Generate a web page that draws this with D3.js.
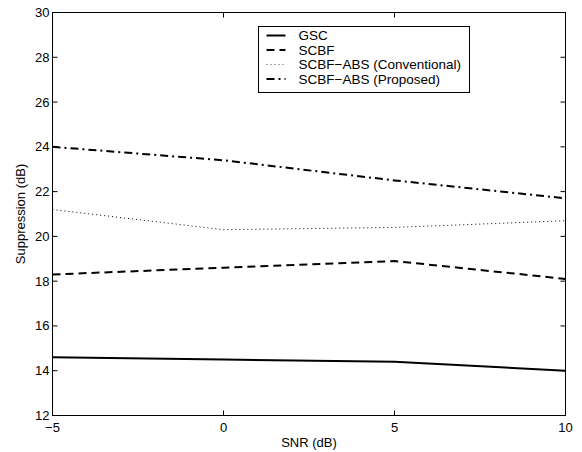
<!DOCTYPE html>
<html>
<head>
  <meta charset="utf-8">
  <script src="https://cdnjs.cloudflare.com/ajax/libs/d3/7.8.5/d3.min.js"></script>
  <style>
    body { margin: 0; background: #fff; }
    svg { font-family: "Liberation Sans", Arial, Helvetica, sans-serif; }
    .tick-label { font-size: 13px; fill: #000; }
    .axis-label { font-size: 13px; fill: #000; }
    .legend-text { font-size: 13.5px; fill: #000; }
    .series { fill: none; stroke: #000; }
  </style>
</head>
<body>
  <div id="chart"></div>
  <script>
    // Data
    const snr = [-5, 0, 5, 10];
    const gsc = [14.6, 14.5, 14.4, 14.0];
    const scbf = [18.3, 18.6, 18.9, 18.1];
    const absConventional = [21.2, 20.3, 20.4, 20.7];
    const absProposed = [24.0, 23.4, 22.5, 21.7];

    const seriesNames = ["GSC", "SCBF", "SCBF\u2212ABS (Conventional)", "SCBF\u2212ABS (Proposed)"];
    const xTicks = [-5, 0, 5, 10];
    const yTicks = [12, 14, 16, 18, 20, 22, 24, 26, 28, 30];

    const styles = [
      {width: 2, dash: null, color: "#000"},
      {width: 2, dash: "8,5", color: "#000"},
      {width: 1, dash: "1,3", color: "#555"},
      {width: 2, dash: "8,4,2,4", color: "#000"}
    ];

    const series = [gsc, scbf, absConventional, absProposed].map((vals, i) => ({
      name: seriesNames[i],
      values: vals.map((v, j) => ({x: snr[j], y: v})),
      style: styles[i]
    }));

    const W = 582, H = 452;
    const plotLeft = 52.5, plotRight = 565.5, plotTop = 12.5, plotBottom = 415.5;

    const svg = d3.select("#chart").append("svg")
      .attr("width", W)
      .attr("height", H);

    const x = d3.scaleLinear().domain([-5, 10]).range([plotLeft, plotRight]);
    const y = d3.scaleLinear().domain([12, 30]).range([plotBottom, plotTop]);

    // Series lines
    const line = d3.line().x(d => x(d.x)).y(d => y(d.y));
    svg.selectAll(".series")
      .data(series)
      .join("path")
      .attr("class", "series")
      .attr("d", d => line(d.values))
      .attr("stroke", d => d.style.color)
      .attr("stroke-width", d => d.style.width)
      .attr("stroke-dasharray", d => d.style.dash);

    // Frame with inward ticks on all sides
    const tickLen = 5;
    svg.append("rect")
      .attr("x", plotLeft).attr("y", plotTop)
      .attr("width", plotRight - plotLeft).attr("height", plotBottom - plotTop)
      .attr("fill", "none").attr("stroke", "#000").attr("stroke-width", 1);

    const ticks = svg.append("g").attr("stroke", "#000").attr("stroke-width", 1);
    xTicks.forEach(t => {
      ticks.append("line").attr("x1", x(t)).attr("x2", x(t)).attr("y1", plotBottom).attr("y2", plotBottom - tickLen);
      ticks.append("line").attr("x1", x(t)).attr("x2", x(t)).attr("y1", plotTop).attr("y2", plotTop + tickLen);
    });
    yTicks.forEach(t => {
      ticks.append("line").attr("x1", plotLeft).attr("x2", plotLeft + tickLen).attr("y1", y(t)).attr("y2", y(t));
      ticks.append("line").attr("x1", plotRight).attr("x2", plotRight - tickLen).attr("y1", y(t)).attr("y2", y(t));
    });

    const fmt = d3.format("d");
    svg.selectAll(".xlab")
      .data(xTicks)
      .join("text")
      .attr("class", "tick-label")
      .attr("x", d => x(d))
      .attr("y", 432)
      .attr("text-anchor", "middle")
      .text(d => fmt(d));

    svg.selectAll(".ylab")
      .data(yTicks)
      .join("text")
      .attr("class", "tick-label")
      .attr("x", plotLeft - 3)
      .attr("y", d => y(d) + 4.5)
      .attr("text-anchor", "end")
      .text(d => fmt(d));

    // Axis titles
    svg.append("text")
      .attr("class", "axis-label")
      .attr("x", (plotLeft + plotRight) / 2)
      .attr("y", 447)
      .attr("text-anchor", "middle")
      .text("SNR (dB)");

    svg.append("text")
      .attr("class", "axis-label")
      .attr("transform", `translate(25,${(plotTop + plotBottom) / 2}) rotate(-90)`)
      .attr("text-anchor", "middle")
      .text("Suppression (dB)");

    // Legend
    const legend = svg.append("g").attr("transform", "translate(258.5,26.5)");
    legend.append("rect")
      .attr("width", 211).attr("height", 66)
      .attr("fill", "#fff").attr("stroke", "#000").attr("stroke-width", 1);

    const rowY = d3.scaleLinear().domain([0, 3]).range([9, 52.5]);
    const rows = legend.selectAll(".legend-row")
      .data(series)
      .join("g")
      .attr("transform", (d, i) => `translate(0,${rowY(i)})`);

    rows.append("line")
      .attr("x1", 8).attr("x2", 27)
      .attr("y1", 0).attr("y2", 0)
      .attr("stroke", d => d.style.color)
      .attr("stroke-width", d => d.style.width)
      .attr("stroke-dasharray", d => d.style.dash);

    rows.append("text")
      .attr("class", "legend-text")
      .attr("x", 40)
      .attr("y", 4.5)
      .text(d => d.name);
  </script>
</body>
</html>
